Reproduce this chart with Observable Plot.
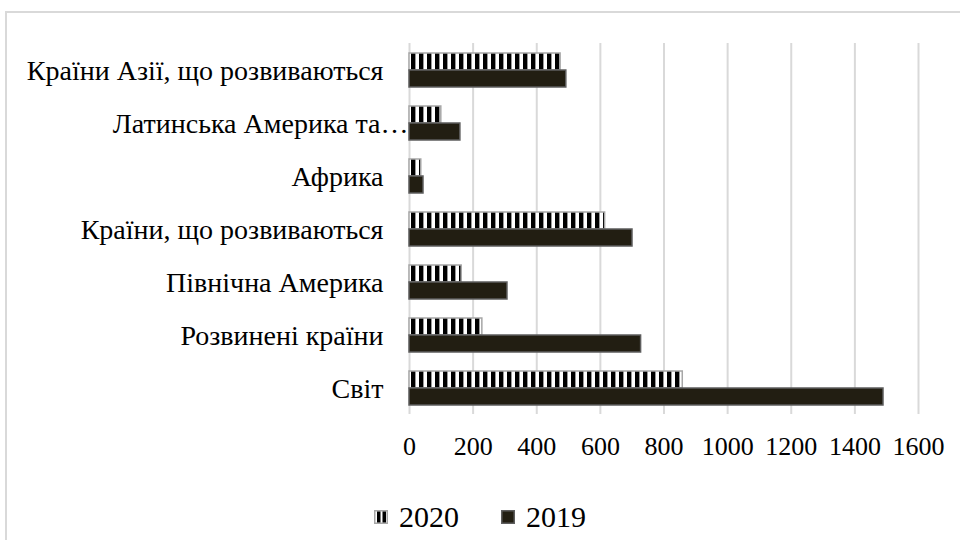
<!DOCTYPE html>
<html>
<head>
<meta charset="utf-8">
<script src="https://cdn.jsdelivr.net/npm/d3@7"></script>
<script src="https://cdn.jsdelivr.net/npm/@observablehq/plot@0.6"></script>
<style>
  html, body { margin: 0; padding: 0; background: #fff; overflow: hidden; }
  #wrap { position: relative; width: 960px; height: 540px; overflow: hidden; font-family: "Liberation Serif", "Times New Roman", serif; }
  #frame { position: absolute; left: 5px; top: 11px; width: 1000px; height: 600px; border: 2px solid #d9d9d9; box-sizing: border-box; }
  #chart { position: absolute; left: 0; top: 0; }
  #legend { position: absolute; left: 0; top: 502px; width: 960px; display: flex; justify-content: center; align-items: center; gap: 42px; font-size: 30px; line-height: 30px; color: #000; font-family: "Liberation Serif", "Times New Roman", serif; }
  .item { display: flex; align-items: center; gap: 11px; }
</style>
</head>
<body>
<div id="wrap">
  <div id="frame"></div>
  <div id="chart"></div>
  <div id="legend"></div>
</div>
<script>
// ---- data ----
const regions = [
  "Країни Азії, що розвиваються",
  "Латинська Америка та…",
  "Африка",
  "Країни, що розвиваються",
  "Північна Америка",
  "Розвинені країни",
  "Світ"
];
const years = ["2020", "2019"];
const values2020 = [475, 100, 37, 615, 164, 229, 859];
const values2019 = [493, 160, 44, 701, 308, 728, 1490];
const xTicks = [0, 200, 400, 600, 800, 1000, 1200, 1400, 1600];

const rows = [];
regions.forEach((r, i) => {
  rows.push({region: r, year: "2020", value: values2020[i]});
  rows.push({region: r, year: "2019", value: values2019[i]});
});
const shifted = [regions[1]];

const svg = Plot.plot({
  width: 960,
  height: 470,
  marginLeft: 409,
  marginRight: 42,
  marginTop: 40,
  marginBottom: 53,
  style: {background: "transparent", fontFamily: "Liberation Serif, Times New Roman, serif", color: "#000"},
  x: {domain: [0, 1600], axis: null},
  y: {domain: years, paddingInner: 0, paddingOuter: 0.5, axis: null},
  fy: {domain: regions, padding: 0, axis: null},
  marks: [
    Plot.gridX(xTicks, {stroke: "#d9d9d9", strokeOpacity: 1, strokeWidth: 2}),
    Plot.barX(rows.filter(d => d.year === "2020"), {
      x: "value", y: "year", fy: "region",
      fill: "url(#vstripes)", stroke: "#a6a6a6", strokeWidth: 1.5
    }),
    Plot.barX(rows.filter(d => d.year === "2019"), {
      x: "value", y: "year", fy: "region",
      fill: "#221e12", stroke: "#5e5e5e", strokeWidth: 1.5
    }),
    Plot.text(regions.filter(r => !shifted.includes(r)), {
      fy: d => d, text: d => d, frameAnchor: "left", textAnchor: "end",
      dx: -26, dy: 1, fontSize: 28, fill: "#000"
    }),
    Plot.text(shifted, {
      fy: d => d, text: d => d, frameAnchor: "left", textAnchor: "end",
      dx: -1, dy: 1, fontSize: 28, fill: "#000"
    }),
    Plot.axisX(xTicks, {tickSize: 0, tickPadding: 22, fontSize: 26, fill: "#000", label: null, tickFormat: d => String(d)})
  ]
});

const defs = d3.select(svg).insert("defs", ":first-child");
const pat = defs.append("pattern")
  .attr("id", "vstripes")
  .attr("patternUnits", "userSpaceOnUse")
  .attr("x", 3).attr("y", 0)
  .attr("width", 8).attr("height", 8);
pat.append("rect").attr("width", 8).attr("height", 8).attr("fill", "#fff");
pat.append("rect").attr("width", 4.4).attr("height", 8).attr("fill", "#000");

document.getElementById("chart").appendChild(svg);

// legend
const legend = d3.select("#legend");
const items = [
  {label: "2020", striped: true},
  {label: "2019", striped: false}
];
items.forEach(it => {
  const item = legend.append("div").attr("class", "item");
  const sw = item.append("svg").attr("width", 14).attr("height", 14);
  if (it.striped) {
    sw.append("rect").attr("x", 0.75).attr("y", 0.75).attr("width", 12.5).attr("height", 12.5).attr("fill", "#fff").attr("stroke", "#a6a6a6").attr("stroke-width", 1.5);
    sw.append("rect").attr("x", 3).attr("y", 1.5).attr("width", 3.5).attr("height", 11).attr("fill", "#000");
    sw.append("rect").attr("x", 8.5).attr("y", 1.5).attr("width", 3.5).attr("height", 11).attr("fill", "#000");
  } else {
    sw.append("rect").attr("x", 0.75).attr("y", 0.75).attr("width", 12.5).attr("height", 12.5).attr("fill", "#221e12").attr("stroke", "#5e5e5e").attr("stroke-width", 1.5);
  }
  item.append("span").text(it.label);
});
</script>
</body>
</html>
